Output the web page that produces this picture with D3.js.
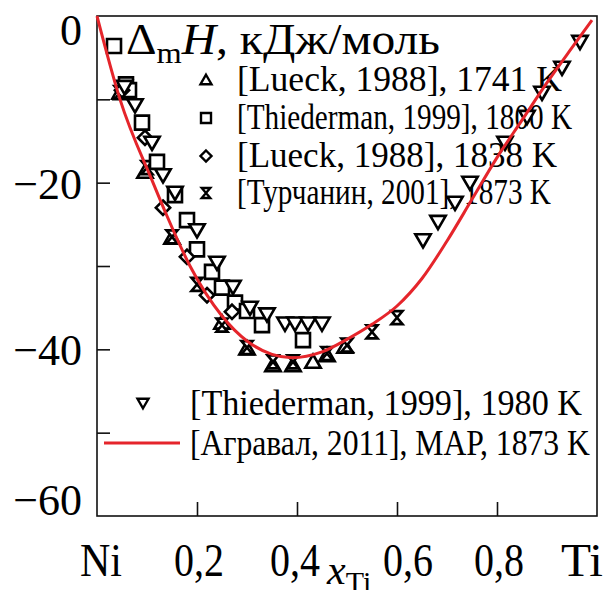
<!DOCTYPE html>
<html>
<head>
<meta charset="utf-8">
<script src="https://cdn.jsdelivr.net/npm/d3@7"></script>
<style>
  body { margin: 0; background: #fff; }
  text { font-family: "Liberation Serif", "Times New Roman", serif; fill: #000; }
</style>
</head>
<body>
<div id="chart"></div>
<script>
// data: [x_Ti, dH kJ/mol]
const lueck1741 = [[0.046,-9.2],[0.096,-18.7],[0.15,-26.6],[0.25,-36.8],[0.30,-39.9],[0.352,-41.9],
  [0.392,-41.9],[0.432,-41.5],[0.46,-40.7],[0.496,-39.7]];
const thied1800 = [[0.034,-3.6],[0.058,-8.2],[0.064,-8.9],[0.09,-12.8],[0.12,-17.5],[0.156,-21.5],
  [0.18,-24.5],[0.20,-28.0],[0.23,-30.7],[0.25,-32.6],[0.276,-34.4],[0.30,-35.4],[0.33,-37.1],[0.412,-38.9]];
const lueck1838 = [[0.05,-8.9],[0.096,-14.6],[0.132,-23.0],[0.18,-28.9],[0.22,-33.5],[0.27,-35.5]];
const turch2001 = [[0.046,-9.2],[0.10,-18.2],[0.15,-26.5],[0.20,-32.2],[0.25,-37.1],[0.30,-39.8],
  [0.352,-41.5],[0.392,-41.5],[0.46,-40.5],[0.50,-39.5],[0.55,-37.9],[0.60,-36.2]];
const thied1980 = [[0.055,-8.5],[0.076,-10.7],[0.11,-15.2],[0.132,-19.1],[0.156,-21.2],[0.20,-25.7],
  [0.24,-29.6],[0.272,-32.5],[0.306,-35.0],[0.34,-35.8],[0.376,-36.9],[0.396,-36.9],[0.422,-36.9],
  [0.45,-36.9],[0.652,-26.9],[0.682,-24.7],[0.716,-22.4],[0.746,-20.0],[0.816,-15.2],[0.86,-12.1],
  [0.89,-9.2],[0.93,-6.2],[0.966,-3.1]];
// assessed curve, MAP
const agrawal = [[0,0],[0.046,-10],[0.112,-20],[0.14,-24],[0.186,-30],[0.25,-36],[0.30,-39],
  [0.35,-40.6],[0.39,-41],[0.45,-40.3],[0.50,-38.8],[0.55,-37],[0.60,-34.8],[0.65,-31.5],
  [0.70,-27],[0.75,-22],[0.80,-17],[0.85,-12.5],[0.90,-8],[0.95,-3.8],[0.99,-0.5]];

const xTickVals = [0, 0.2, 0.4, 0.6, 0.8, 1];
const xTickLabels = ['Ni', '0,2', '0,4', '0,6', '0,8', 'Ti'];
const yLabelVals = [0, -20, -40, -60];
const yMinorVals = [-10, -20, -30, -40, -50];
const legendTop = ['[Lueck, 1988], 1741 K', '[Thiederman, 1999], 1800 K', '[Lueck, 1988], 1838 K', '[Турчанин, 2001], 1873 K'];
const legendBottom = ['[Thiederman, 1999], 1980 K', '[Агравал, 2011], МАР, 1873 K'];

const W = 604, H = 590;
const svg = d3.select('#chart').append('svg').attr('width', W).attr('height', H);

const x = d3.scaleLinear().domain([0, 1]).range([97, 597]);
const y = d3.scaleLinear().domain([-60, 0]).range([516, 16]);

// marker shapes
function shape(kind, s) {
  const h = s / 2;
  switch (kind) {
    case 'up': return `M0,${-h*1.05}L${h*1.1},${h*0.85}L${-h*1.1},${h*0.85}Z`;
    case 'down': return `M0,${h*1.05}L${h*1.1},${-h*0.85}L${-h*1.1},${-h*0.85}Z`;
    case 'square': return `M${-h},${-h}H${h}V${h}H${-h}Z`;
    case 'diamond': return `M0,${-h*1.1}L${h*1.1},0L0,${h*1.1}L${-h*1.1},0Z`;
    case 'hour': return `M${-h*0.85},${-h}H${h*0.85}L${-h*0.85},${h}H${h*0.85}Z`;
  }
}

// frame
svg.append('rect').attr('x', x(0)).attr('y', y(0))
  .attr('width', x(1) - x(0)).attr('height', y(-60) - y(0))
  .attr('fill', 'none').attr('stroke', '#111').attr('stroke-width', 1.6);

// inner ticks
const gx = svg.append('g').attr('transform', `translate(0,${y(-60)})`)
  .call(d3.axisBottom(x).tickValues(xTickVals.slice(1, -1)).tickSize(-14).tickFormat(''));
const gy = svg.append('g').attr('transform', `translate(${x(0)},0)`)
  .call(d3.axisLeft(y).tickValues(yMinorVals).tickSize(-13).tickFormat(''));
[gx, gy].forEach(g => {
  g.select('.domain').remove();
  g.selectAll('line').attr('stroke', '#111').attr('stroke-width', 1.6);
});

// tick labels
svg.selectAll('.xl').data(xTickVals).enter().append('text')
  .attr('class', 'xl')
  .attr('x', (d, i) => x(d) + (i === 0 ? 4 : i === 5 ? -15 : i === 3 ? 11 : i === 2 ? -2 : 2))
  .attr('y', 576)
  .attr('text-anchor', 'middle')
  .attr('font-size', 46)
  .attr('textLength', (d, i) => (i === 0 || i === 5) ? 42 : 50)
  .attr('lengthAdjust', 'spacingAndGlyphs')
  .text((d, i) => xTickLabels[i]);

svg.selectAll('.yl').data(yLabelVals).enter().append('text')
  .attr('class', 'yl')
  .attr('x', 82)
  .attr('y', d => y(d) + (d === 0 ? 29 : d === -60 ? -1 : 16))
  .attr('text-anchor', 'end')
  .attr('font-size', 44)
  .text(d => d3.format('d')(d).replace('-', '\u2212'));

// axis title x_Ti
const xt = svg.append('text').attr('x', 327).attr('y', 584).attr('font-size', 42);
xt.append('tspan').attr('font-style', 'italic').text('x');
xt.append('tspan').attr('font-size', 30).attr('dy', 8).text('Ti');

// legend title
const lt = svg.append('text').attr('x', 126).attr('y', 54).attr('font-size', 44)
  .attr('textLength', 314).attr('lengthAdjust', 'spacingAndGlyphs');
lt.append('tspan').text('\u0394');
lt.append('tspan').attr('font-size', 30).attr('dy', 9).text('m');
lt.append('tspan').attr('dy', -9).attr('font-style', 'italic').text('H');
lt.append('tspan').text(', кДж/моль');

// legend rows
const topKinds = ['up', 'square', 'diamond', 'hour'];
const topBase = [91, 129, 167, 204];
const topEnd = [562, 572, 557, 551];
legendTop.forEach((t, i) => {
  svg.append('path').attr('d', shape(topKinds[i], 10))
    .attr('transform', `translate(206,${topBase[i] - 11})`)
    .attr('fill', 'white').attr('stroke', '#000').attr('stroke-width', 2.4);
  svg.append('text').attr('x', 237).attr('y', topBase[i]).attr('font-size', 35)
    .attr('textLength', topEnd[i] - 237).attr('lengthAdjust', 'spacingAndGlyphs').text(t);
});

svg.append('path').attr('d', shape('down', 10))
  .attr('transform', 'translate(143,403)')
  .attr('fill', 'white').attr('stroke', '#000').attr('stroke-width', 2.4);
svg.append('line').attr('x1', 104).attr('x2', 180).attr('y1', 443).attr('y2', 443)
  .attr('stroke', '#e5252b').attr('stroke-width', 3);
svg.append('text').attr('x', 190).attr('y', 415).attr('font-size', 35)
  .attr('textLength', 392).attr('lengthAdjust', 'spacingAndGlyphs').text(legendBottom[0]);
svg.append('text').attr('x', 190).attr('y', 455).attr('font-size', 35)
  .attr('textLength', 400).attr('lengthAdjust', 'spacingAndGlyphs').text(legendBottom[1]);

// data markers
const series = [
  {data: lueck1741, kind: 'up', size: 14},
  {data: turch2001, kind: 'hour', size: 13},
  {data: thied1800, kind: 'square', size: 14},
  {data: lueck1838, kind: 'diamond', size: 13},
  {data: thied1980, kind: 'down', size: 14}
];
series.forEach(s => {
  svg.append('g').selectAll('path').data(s.data).enter().append('path')
    .attr('d', shape(s.kind, s.size))
    .attr('transform', d => `translate(${x(d[0])},${y(d[1])})`)
    .attr('fill', 'white').attr('stroke', '#000').attr('stroke-width', 2.6);
});

// MAP curve
svg.append('path').datum(agrawal)
  .attr('d', d3.line().x(d => x(d[0])).y(d => y(d[1])).curve(d3.curveMonotoneX))
  .attr('fill', 'none').attr('stroke', '#e5252b').attr('stroke-width', 3);
</script>
</body>
</html>
